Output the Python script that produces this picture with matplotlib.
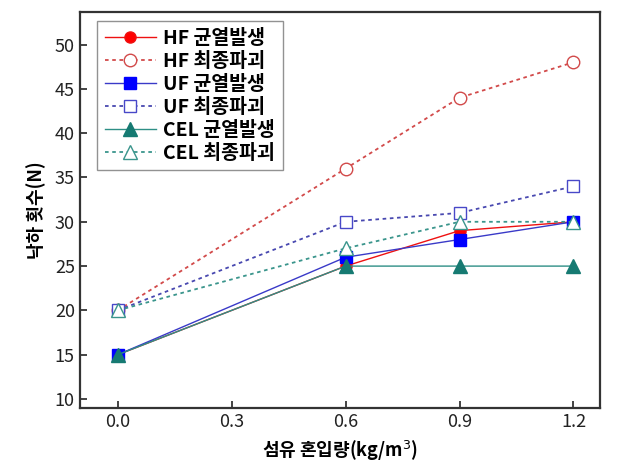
import matplotlib
matplotlib.use("Agg")
import matplotlib.pyplot as plt

plt.rcParams['font.family'] = ['Noto Sans CJK KR', 'DejaVu Sans']

x = [0.0, 0.6, 0.9, 1.2]
hf_crack = [15, 25, 29, 30]
hf_final = [20, 36, 44, 48]
uf_crack = [15, 26, 28, 30]
uf_final = [20, 30, 31, 34]
cel_crack = [15, 25, 25, 25]
cel_final = [20, 27, 30, 30]

xticks = [0.0, 0.3, 0.6, 0.9, 1.2]
yticks = [10, 15, 20, 25, 30, 35, 40, 45, 50]

fig = plt.figure(figsize=(6.18, 4.71), dpi=100)
ax = fig.add_axes([0.129, 0.134, 0.842, 0.841])

dot = (0, (2, 2))
ax.plot(x, hf_crack, '-', color='#ee1111', lw=1.0, marker='o', ms=8,
        mfc='#ff0000', mec='#ee1111', label='HF 균열발생')
ax.plot(x, hf_final, linestyle=dot, color='#d24a4a', lw=1.3, marker='o', ms=9,
        mfc='white', mec='#d24a4a', label='HF 최종파괴')
ax.plot(x, uf_crack, '-', color='#3a3ac8', lw=1.0, marker='s', ms=8,
        mfc='#0000ff', mec='#0000ff', label='UF 균열발생')
ax.plot(x, uf_final, linestyle=dot, color='#4848b0', lw=1.3, marker='s', ms=9,
        mfc='white', mec='#4848c8', label='UF 최종파괴')
ax.plot(x, cel_crack, '-', color='#2e8f86', lw=1.0, marker='^', ms=10,
        mfc='#167a72', mec='#167a72', label='CEL 균열발생')
ax.plot(x, cel_final, linestyle=dot, color='#3a958c', lw=1.3, marker='^', ms=10,
        mfc='white', mec='#3a958c', label='CEL 최종파괴')

ax.set_xlim(-0.1, 1.27)
ax.set_ylim(9, 53.7)
ax.set_xticks(xticks)
ax.set_xticklabels(['0.0', '0.3', '0.6', '0.9', '1.2'])
ax.set_yticks(yticks)
ax.tick_params(direction='in', length=5, width=1.2, labelsize=13, colors='#222222')
for s in ax.spines.values():
    s.set_linewidth(1.6)
    s.set_color('#333333')

ax.set_xlabel('섬유 혼입량(kg/m$^3$)', fontsize=13, fontweight='bold', labelpad=6)
ax.set_ylabel('낙하 횟수(N)', fontsize=13, fontweight='bold', labelpad=6)

leg = ax.legend(loc='upper left', bbox_to_anchor=(0.015, 1.0),
                prop={'size': 14, 'weight': 'bold'},
                frameon=True, fancybox=False, edgecolor='#777777',
                handlelength=2.6, labelspacing=0.2, borderpad=0.4, handletextpad=0.4)
leg.get_frame().set_linewidth(1.0)

fig.savefig('out.png', dpi=100)
